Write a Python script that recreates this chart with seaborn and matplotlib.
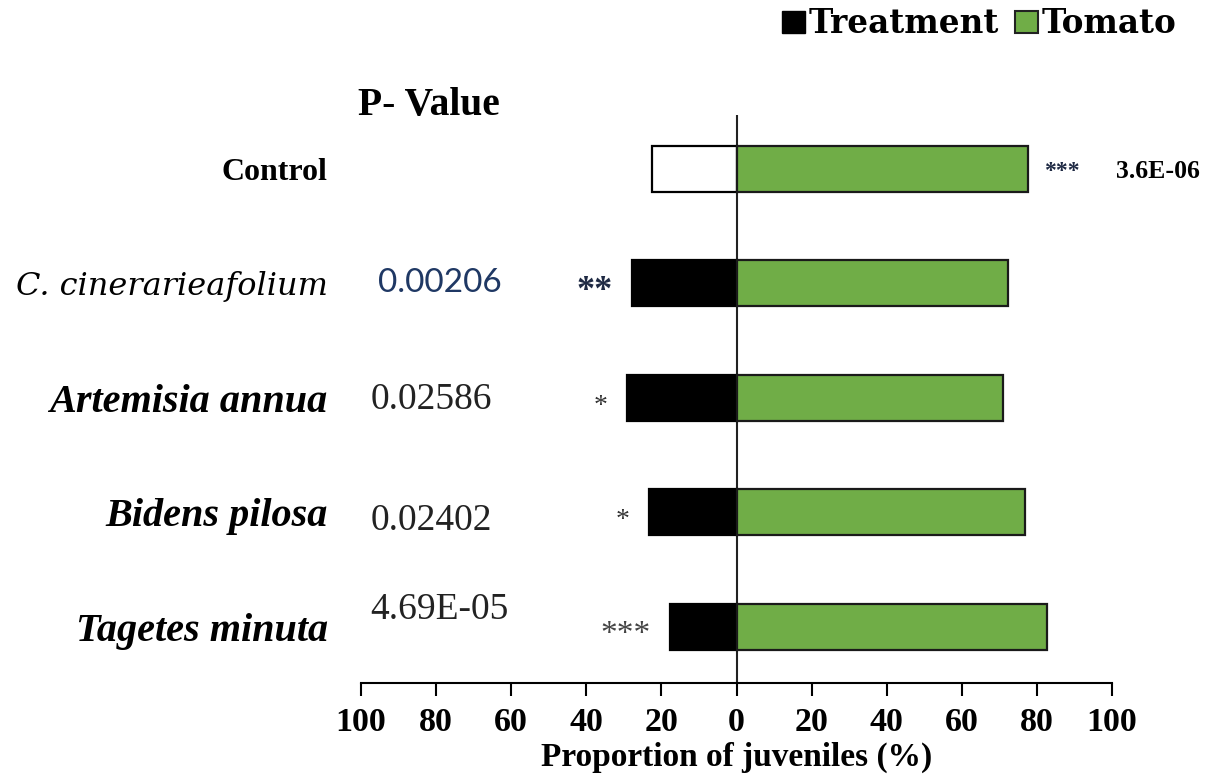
import matplotlib
matplotlib.use("Agg")
import matplotlib.pyplot as plt
import matplotlib.patches as mpatches
import seaborn as sns
import pandas as pd
import numpy as np

# ---- data ----
categories = ["Control", "C. cinerarieafolium", "Artemisia annua", "Bidens pilosa", "Tagetes minuta"]
treatment = [22.5, 27.8, 29.1, 23.4, 17.6]
tomato = [77.5, 72.3, 71.0, 76.8, 82.6]
p_values = ["3.6E-06", "0.00206", "0.02586", "0.02402", "4.69E-05"]
stars = ["***", "**", "*", "*", "***"]
tick_values = [-100, -80, -60, -40, -20, 0, 20, 40, 60, 80, 100]
tick_labels = [str(abs(v)) for v in tick_values]

df = pd.DataFrame({"category": categories,
                   "treatment": [-v for v in treatment],
                   "tomato": tomato})

sns.set_theme(style="white")
plt.rcParams["font.family"] = ["Liberation Serif", "DejaVu Serif"]
plt.rcParams["text.color"] = "black"
plt.rcParams["axes.labelcolor"] = "black"
plt.rcParams["xtick.color"] = "black"
plt.rcParams["ytick.color"] = "black"

W, H = 1217, 775
fig = plt.figure(figsize=(W / 100, H / 100), dpi=100)
ax = fig.add_axes([361 / W, 1 - 683 / H, (1112 - 361) / W, (683 - 115) / H])

green = "#70AD47"
treat_colors = ["white"] + ["black"] * (len(categories) - 1)

sns.barplot(data=df, x="treatment", y="category", hue="category", palette=treat_colors,
            order=categories, hue_order=categories, legend=False, width=0.4,
            edgecolor="black", linewidth=1.6, orient="h", ax=ax)
sns.barplot(data=df, x="tomato", y="category", order=categories, color=green,
            width=0.4, edgecolor="#1a1a1a", linewidth=1.6, orient="h", ax=ax, saturation=1)

ax.set_xlim(-100, 100)
ax.set_ylim(len(categories) - 1 + 0.49, -0.47)
ax.axvline(0, color="#222222", lw=1.5, zorder=0.5)

for s in ["top", "right", "left"]:
    ax.spines[s].set_visible(False)
ax.spines["bottom"].set_color("black")
ax.spines["bottom"].set_linewidth(1.5)

ax.set_xticks(tick_values)
ax.set_xticklabels(tick_labels, fontsize=24.5, fontweight="bold", color="black")
ax.tick_params(axis="x", direction="out", length=9, width=1.5, color="black", pad=8, bottom=True)
ax.set_xlabel("Proportion of juveniles (%)", fontsize=24, fontweight="bold", labelpad=3,
              color="black")
ax.set_ylabel("")

# y tick labels (category names)
ax.tick_params(axis="y", length=0, pad=24)
ax.set_yticks(range(len(categories)))
ax.set_yticklabels(categories)
for i, lab in enumerate(ax.get_yticklabels()):
    lab.set_color("black")
    if i == 0:
        lab.set_fontsize(23)
        lab.set_fontweight("bold")
        lab.set_fontstyle("normal")
    elif i == 1:
        lab.set_fontsize(23)
        lab.set_fontfamily(["DejaVu Serif"])
        lab.set_fontstyle("italic")
        lab.set_fontweight("normal")
    else:
        lab.set_fontsize(29)
        lab.set_fontweight("bold")
        lab.set_fontstyle("italic")

# p-values on the left
pv_offsets = [0, 0, 0.02, 0.07, -0.15]
for i in range(1, len(categories)):
    if i == 1:
        ax.text(-95.5, i + pv_offsets[i], p_values[i], fontsize=24, family=["Lato"],
                color="#1F3864", ha="left", va="center")
    else:
        ax.text(-97.5, i + pv_offsets[i], p_values[i], fontsize=27, color="#222222",
                ha="left", va="center")

# control p-value on the right
ax.text(101, 0.02, p_values[0], fontsize=18.5, fontweight="bold", ha="left", va="center",
        clip_on=False)

# significance stars
star_sizes = [17, 26, 20, 20, 24]
star_colors = ["#1f2a44", "#1f2a44", "#333333", "#333333", "#444444"]
star_dy = [-2, -6, -6, -6, -6]
for i, st in enumerate(stars):
    if i == 0:
        ax.annotate(st, xy=(tomato[i], i), xytext=(12, star_dy[i]), textcoords="offset points",
                    fontsize=star_sizes[i], ha="left", va="center", color=star_colors[i],
                    fontweight="bold")
    else:
        ax.annotate(st, xy=(-treatment[i], i), xytext=(-14, star_dy[i]), textcoords="offset points",
                    fontsize=star_sizes[i], ha="right", va="center", color=star_colors[i],
                    fontweight="bold" if i == 1 else "normal")

# P- Value header
fig.text(429 / W, 1 - 106 / H, "P- Value", fontsize=28.5, fontweight="bold",
         ha="center", va="center", color="black")

# legend
handles = [mpatches.Patch(facecolor="black", edgecolor="black", label="Treatment"),
           mpatches.Patch(facecolor=green, edgecolor="#222222", linewidth=1.5, label="Tomato")]
fig.legend(handles=handles, loc="upper right", bbox_to_anchor=(1206 / W, 1 + 22 / H),
           ncol=2, frameon=False, handlelength=0.7, handleheight=0.7,
           handletextpad=0.12, columnspacing=0.5,
           prop={"family": "DejaVu Serif", "weight": "bold", "size": 23.5})

fig.savefig("out.png", dpi=100)
